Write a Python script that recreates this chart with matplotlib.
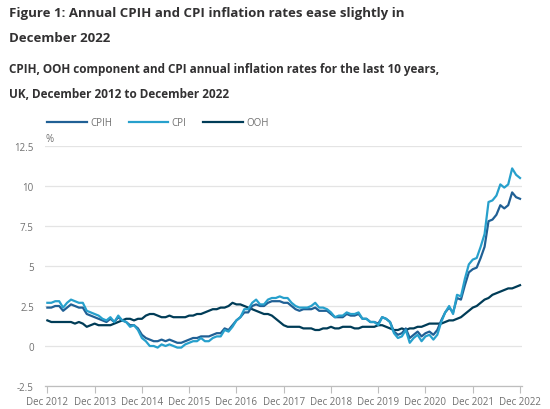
import matplotlib
matplotlib.use("Agg")
import matplotlib.pyplot as plt
import numpy as np

plt.rcParams['font.family'] = ['Open Sans', 'DejaVu Sans']

# monthly values, Dec 2012 .. Dec 2022
cpih = [2.4,
        2.4, 2.5, 2.5, 2.2, 2.4, 2.6, 2.5, 2.4, 2.4, 2.0, 1.9, 1.8,
        1.7, 1.6, 1.5, 1.7, 1.5, 1.8, 1.6, 1.5, 1.3, 1.3, 1.1, 0.7,
        0.5, 0.4, 0.3, 0.3, 0.4, 0.3, 0.4, 0.3, 0.2, 0.2, 0.3, 0.4,
        0.5, 0.5, 0.6, 0.6, 0.6, 0.7, 0.8, 0.8, 1.1, 1.0, 1.3, 1.6,
        1.8, 2.1, 2.1, 2.5, 2.6, 2.5, 2.5, 2.7, 2.8, 2.8, 2.8, 2.7,
        2.7, 2.5, 2.3, 2.2, 2.3, 2.3, 2.3, 2.4, 2.2, 2.2, 2.2, 2.0,
        1.8, 1.8, 1.8, 2.0, 1.9, 1.9, 2.0, 1.7, 1.7, 1.5, 1.5, 1.4,
        1.8, 1.7, 1.5, 0.9, 0.7, 0.8, 1.1, 0.5, 0.7, 0.9, 0.6, 0.8,
        0.9, 0.7, 1.0, 1.6, 2.1, 2.4, 2.1, 3.0, 2.9, 3.8, 4.6, 4.8,
        4.9, 5.5, 6.2, 7.8, 7.9, 8.2, 8.8, 8.6, 8.8, 9.6, 9.3, 9.2]

cpi = [2.7,
       2.7, 2.8, 2.8, 2.4, 2.7, 2.9, 2.8, 2.7, 2.7, 2.2, 2.1, 2.0,
       1.9, 1.7, 1.6, 1.8, 1.5, 1.9, 1.6, 1.5, 1.2, 1.3, 1.0, 0.5,
       0.3, 0.0, 0.0, -0.1, 0.1, 0.0, 0.1, 0.0, -0.1, -0.1, 0.1, 0.2,
       0.3, 0.3, 0.5, 0.3, 0.3, 0.5, 0.6, 0.6, 1.0, 0.9, 1.2, 1.6,
       1.8, 2.3, 2.3, 2.7, 2.9, 2.6, 2.6, 2.9, 3.0, 3.0, 3.1, 3.0,
       3.0, 2.7, 2.5, 2.4, 2.4, 2.4, 2.5, 2.7, 2.4, 2.4, 2.3, 2.1,
       1.8, 1.9, 1.9, 2.1, 2.0, 2.0, 2.1, 1.7, 1.7, 1.5, 1.5, 1.3,
       1.8, 1.7, 1.5, 0.8, 0.5, 0.6, 1.0, 0.2, 0.5, 0.7, 0.3, 0.6,
       0.7, 0.4, 0.7, 1.5, 2.1, 2.5, 2.0, 3.2, 3.1, 4.2, 5.1, 5.4,
       5.5, 6.2, 7.0, 9.0, 9.1, 9.4, 10.1, 9.9, 10.1, 11.1, 10.7, 10.5]

ooh = [1.6,
       1.5, 1.5, 1.5, 1.5, 1.5, 1.5, 1.4, 1.5, 1.4, 1.2, 1.3, 1.4,
       1.3, 1.3, 1.3, 1.3, 1.4, 1.5, 1.6, 1.7, 1.7, 1.6, 1.7, 1.7,
       1.9, 2.0, 2.0, 1.9, 1.8, 1.8, 1.9, 1.8, 1.8, 1.8, 1.8, 1.9,
       1.9, 2.0, 2.0, 2.1, 2.2, 2.3, 2.3, 2.4, 2.4, 2.5, 2.7, 2.6,
       2.6, 2.5, 2.4, 2.3, 2.2, 2.1, 2.0, 2.0, 1.9, 1.7, 1.5, 1.3,
       1.2, 1.2, 1.2, 1.2, 1.1, 1.1, 1.1, 1.0, 1.0, 1.1, 1.1, 1.2,
       1.1, 1.1, 1.2, 1.2, 1.2, 1.1, 1.1, 1.2, 1.2, 1.2, 1.2, 1.3,
       1.3, 1.2, 1.1, 1.0, 1.0, 1.1, 1.0, 1.1, 1.1, 1.2, 1.2, 1.3,
       1.4, 1.4, 1.4, 1.4, 1.5, 1.6, 1.6, 1.7, 1.8, 2.0, 2.2, 2.4,
       2.5, 2.7, 2.9, 3.0, 3.2, 3.3, 3.4, 3.5, 3.6, 3.6, 3.7, 3.8]

tick_labels = ['Dec 2012', 'Dec 2013', 'Dec 2014', 'Dec 2015', 'Dec 2016',
               'Dec 2017', 'Dec 2018', 'Dec 2019', 'Dec 2020', 'Dec 2021',
               'Dec 2022']
y_ticks = [-2.5, 0, 2.5, 5, 7.5, 10, 12.5]
y_labels = ['-2.5', '0', '2.5', '5', '7.5', '10', '12.5']

months = np.arange(len(cpih))

fig = plt.figure(figsize=(5.5, 4.1), dpi=100)
ax = fig.add_axes([45/550, 1 - 387/410, 477/550, 240/410])

ax.plot(months, ooh, color='#003c57', lw=1.6, label='OOH', zorder=3)
ax.plot(months, cpih, color='#206095', lw=1.6, label='CPIH', zorder=4)
ax.plot(months, cpi, color='#27a0cc', lw=1.6, label='CPI', zorder=5)

ax.set_xlim(-0.6, 120.5)
ax.set_ylim(-2.5, 12.5)
ax.set_yticks(y_ticks)
ax.set_yticklabels(y_labels)
ax.set_xticks(np.arange(0, 121, 12))
ax.set_xticklabels(tick_labels)

for s in ['top', 'right', 'left']:
    ax.spines[s].set_visible(False)
ax.spines['bottom'].set_color('#bebebe')
ax.spines['bottom'].set_linewidth(0.9)
ax.grid(axis='y', color='#e4e4e4', lw=0.9)
ax.set_axisbelow(True)
ax.tick_params(axis='y', length=0, pad=8, labelsize=7, labelcolor='#707070')
ax.tick_params(axis='x', length=5, color='#bebebe', pad=2, labelsize=7,
               labelcolor='#707070')

ax.text(0.002, 1.01, '%', transform=ax.transAxes, fontsize=7,
        color='#707070', va='bottom', ha='left')

handles, labels = ax.get_legend_handles_labels()
order = [1, 2, 0]
fig.legend([handles[i] for i in order], [labels[i] for i in order],
           loc='center left', bbox_to_anchor=(38/550, 1 - 124/410),
           ncol=3, frameon=False, fontsize=7, handlelength=4.1,
           handletextpad=0.35, columnspacing=1.7, labelcolor='#707070')

fig.text(9/550, 1 - 14/410,
         'Figure 1: Annual CPIH and CPI inflation rates ease slightly in',
         fontsize=9.5, fontweight='bold', color='#323132', va='center')
fig.text(9/550, 1 - 38/410, 'December 2022',
         fontsize=9.5, fontweight='bold', color='#323132', va='center')
fig.text(9/550, 1 - 70/410,
         'CPIH, OOH component and CPI annual inflation rates for the last 10 years,',
         fontsize=8.5, fontweight='bold', color='#323132', va='center')
fig.text(9/550, 1 - 94/410, 'UK, December 2012 to December 2022',
         fontsize=8.5, fontweight='bold', color='#323132', va='center')

fig.savefig('out.png', dpi=100)
